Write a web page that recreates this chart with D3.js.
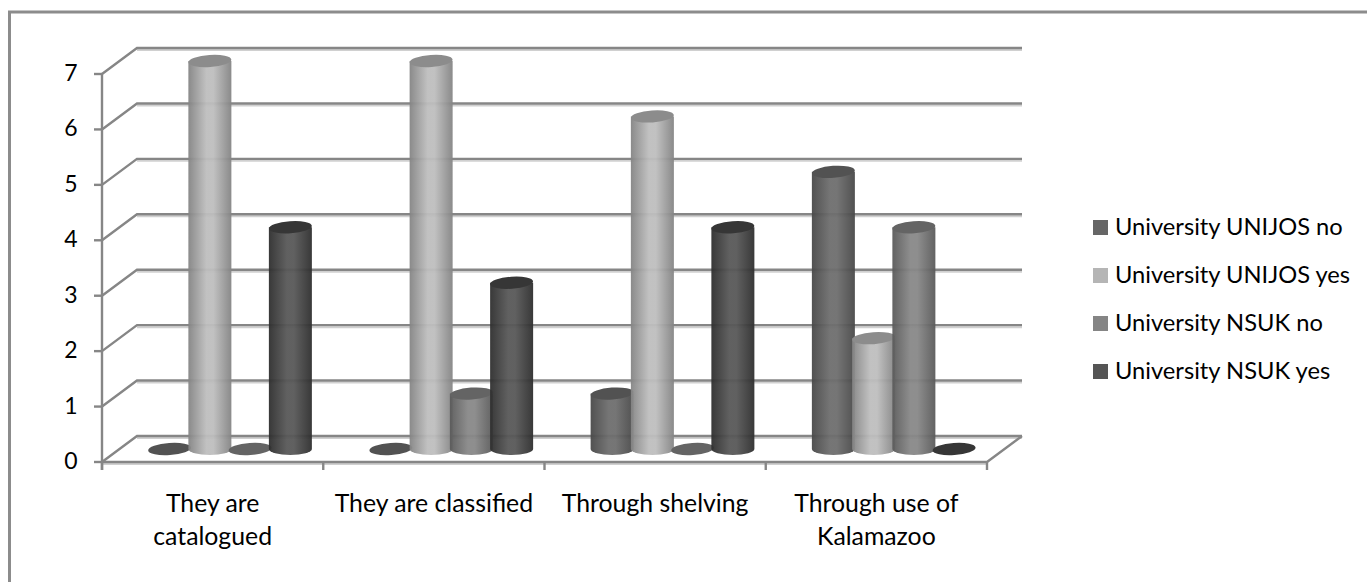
<!DOCTYPE html>
<html>
<head>
<meta charset="utf-8">
<script src="https://cdn.jsdelivr.net/npm/d3@7"></script>
<style>
  html, body { margin: 0; padding: 0; background: #fff; }
  svg { display: block; }
  text { font-family: Lato, "Open Sans", sans-serif; fill: #000; }
</style>
</head>
<body>
<div id="chart"></div>
<script>
const categories = [['They are', 'catalogued'], ['They are classified'], ['Through shelving'], ['Through use of', 'Kalamazoo']];
const seriesNames = ['University UNIJOS no', 'University UNIJOS yes', 'University NSUK no', 'University NSUK yes'];
const unijosNo = [0, 0, 1, 5];
const unijosYes = [7, 7, 6, 2];
const nsukNo = [0, 1, 0, 4];
const nsukYes = [4, 3, 4, 0];
const yTicks = [0, 1, 2, 3, 4, 5, 6, 7];

const seriesValues = [unijosNo, unijosYes, nsukNo, nsukYes];
// edge, middle, top ellipse, legend swatch
const seriesColors = [
  ['#484848', '#6e6e6e', '#525252', '#666666'],
  ['#848484', '#bebebe', '#8c8c8c', '#b5b5b5'],
  ['#5a5a5a', '#888888', '#646464', '#858585'],
  ['#2e2e2e', '#585858', '#363636', '#555555']
];

const width = 1367, height = 582;
const depth = [35, -26]; // front plane to back wall
const gridColor = '#868686', shadowColor = '#d0d0d0';

const svg = d3.select('#chart').append('svg')
  .attr('width', width).attr('height', height);

// frame runs off the right and bottom of the picture
svg.append('path')
  .attr('d', d3.line()([[9.5, height], [9.5, 12], [width, 12]]))
  .attr('fill', 'none').attr('stroke', '#8c8c8c').attr('stroke-width', 3);

const scaleX = d3.scaleBand(d3.range(categories.length), [102, 987]);
const scaleY = d3.scaleLinear([0, 7], [462, 74]);
const scaleSeries = d3.scaleBand(d3.range(seriesNames.length), [30, 191]);

// gradients for the cylinders
const defs = svg.append('defs');
seriesColors.forEach((c, i) => {
  const g = defs.append('linearGradient').attr('id', `cyl${i}`);
  g.selectAll('stop')
    .data([[0, c[0]], [0.42, c[1]], [0.58, c[1]], [1, c[0]]])
    .join('stop')
    .attr('offset', d => d[0]).attr('stop-color', d => d[1]);
});

// walls and floor lines
const grid = svg.append('g').attr('fill', 'none');
const line = (pts, color, w, dy = 0) => grid.append('path')
  .attr('d', d3.line()(pts.map(p => [p[0], p[1] + dy])))
  .attr('stroke', color).attr('stroke-width', w);

const x0 = scaleX.range()[0], x1 = scaleX.range()[1];
const right = x1 + depth[0];

yTicks.forEach(t => {
  const y = scaleY(t);
  line([[x0 + depth[0], y + depth[1]], [right, y + depth[1]]], shadowColor, 2, 2);
  line([[x0, y], [x0 + depth[0], y + depth[1]], [right, y + depth[1]]], gridColor, 2.4);
  line([[x0 - 8, y], [x0, y]], gridColor, 2.4);
});

line([[x0, scaleY(0)], [x1, scaleY(0)]], shadowColor, 2, 2);
line([[x0, scaleY(0)], [x1, scaleY(0)], [right, scaleY(0) + depth[1]]], gridColor, 2.4);
line([[x0, scaleY(7)], [x0, scaleY(0) + 8]], gridColor, 2.4);

scaleX.domain().concat(categories.length).forEach(i => {
  const x = i < categories.length ? scaleX(i) : x1;
  line([[x, scaleY(0)], [x, scaleY(0) + 8]], gridColor, 2.4);
});

// y labels
svg.append('g').selectAll('text').data(yTicks).join('text')
  .attr('x', 71).attr('y', d => scaleY(d) + 7)
  .attr('text-anchor', 'middle').attr('font-size', 23)
  .text(d => d);

// cylinders, drawn back to front by series order
const rx = 21.5, ry = 6, tilt = -4;
const bars = [];
seriesValues.forEach((vals, s) => vals.forEach((v, c) => bars.push({ s, c, v })));
bars.sort((a, b) => a.c - b.c || a.s - b.s);

const barG = svg.append('g');
bars.forEach(d => {
  const cx = scaleX(d.c) + scaleSeries(d.s) + scaleSeries.bandwidth() / 2 + depth[0] / 2;
  const yBase = scaleY(0) + depth[1] / 2;
  const yTop = scaleY(d.v) + depth[1] / 2;
  const col = seriesColors[d.s];
  if (d.v > 0) {
    barG.append('path')
      .attr('d', `M${cx - rx},${yTop}L${cx - rx},${yBase}A${rx},${ry} 0 0 0 ${cx + rx},${yBase}L${cx + rx},${yTop}Z`)
      .attr('fill', `url(#cyl${d.s})`)
      .attr('fill-opacity', 0.95);
  }
  barG.append('ellipse')
    .attr('rx', rx).attr('ry', ry)
    .attr('transform', `translate(${cx},${yTop})rotate(${tilt})`)
    .attr('fill', col[2]);
});

// category labels
const labels = svg.append('g').selectAll('text').data(categories).join('text')
  .attr('text-anchor', 'middle').attr('font-size', 24.8)
  .attr('transform', (d, i) => `translate(${scaleX(i) + scaleX.bandwidth() / 2},512)`);
labels.selectAll('tspan').data(d => d).join('tspan')
  .attr('x', 0).attr('y', (d, i) => i * 33).text(d => d);

// legend
const legend = svg.append('g').selectAll('g').data(seriesNames).join('g')
  .attr('transform', (d, i) => `translate(1093,${227.5 + i * 48})`);
legend.append('rect')
  .attr('x', 0).attr('y', -7.5).attr('width', 15).attr('height', 15)
  .attr('fill', (d, i) => seriesColors[i][3]);
legend.append('text')
  .attr('x', 22).attr('y', 7.5).attr('font-size', 23.7)
  .text(d => d);
</script>
</body>
</html>
